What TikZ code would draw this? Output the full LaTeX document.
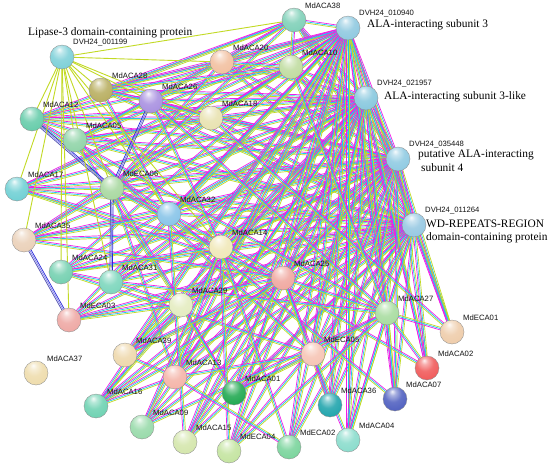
\documentclass[tikz,border=0pt]{standalone}
\usepackage{fontspec}
\setmainfont{Liberation Serif}
\newfontfamily\labfont{Liberation Sans}
\usetikzlibrary{calc,backgrounds}
\definecolor{cM}{HTML}{F01EE6}
\definecolor{cC}{HTML}{1EC8F0}
\definecolor{cY}{HTML}{C2DA24}
\definecolor{cB1}{HTML}{2828D8}
\definecolor{cB2}{HTML}{8080F0}
\definecolor{cB3}{HTML}{5050B0}
\colorlet{protcol}{white}
\pgfdeclareradialshading[protcol]{sphere}{\pgfpoint{-6bp}{16bp}}{%
  color(0bp)=(protcol!8!white); color(7bp)=(protcol!50!white);
  color(18bp)=(protcol!88!white); color(34bp)=(protcol);
  color(50bp)=(protcol!80!black); color(66bp)=(protcol!58!black)}
\tikzset{
  prot/.style={circle, minimum size=24pt, inner sep=0pt, draw=black!45, line width=0.3pt,
    /utils/exec={\definecolor{protcol}{HTML}{#1}}, shading=sphere},
  lab/.style={font=\labfont\fontsize{7.7}{8}\selectfont, text=black!92, anchor=west, inner sep=0pt},
  big/.style={font=\fontsize{11.4}{13.5}\selectfont, anchor=west, inner sep=0pt, align=left},
  eM/.style={draw=cM, line width=0.7pt},
  eC/.style={draw=cC, line width=0.7pt},
  eY/.style={draw=cY, line width=0.7pt},
  eYs/.style={draw=cY, line width=0.9pt},
  eB1/.style={draw=cB1, line width=0.7pt},
  eB2/.style={draw=cB2, line width=0.7pt},
  eB3/.style={draw=cB3, line width=0.7pt},
}
\newcommand\triedge[2]{%
  \draw[eC] (#1.center) -- (#2.center);
  \draw[eM] ($(#1)!1.3pt!90:(#2)$) -- ($(#2)!1.3pt!-90:(#1)$);
  \draw[eY] ($(#1)!1.3pt!-90:(#2)$) -- ($(#2)!1.3pt!90:(#1)$);}
\newcommand\bluedge[2]{%
  \draw[eB2] (#1.center) -- (#2.center);
  \draw[eB1] ($(#1)!1.3pt!90:(#2)$) -- ($(#2)!1.3pt!-90:(#1)$);
  \draw[eB3] ($(#1)!1.3pt!-90:(#2)$) -- ($(#2)!1.3pt!90:(#1)$);}
\newcommand\protnode[5]{%
  \node[prot=#4] (#1) at (#2,#3) {};
  \node[lab] (#1-l) at ($(#1)+(11,-14.5)$) {#5};}
\begin{document}
\begin{tikzpicture}[x=1pt,y=-1pt]
\useasboundingbox (0,0) rectangle (550,469);
% proteins
\protnode{n1}{62}{57}{7DD0D8}{DVH24\_001199}
\protnode{a1}{348}{28}{8FC9E0}{DVH24\_010940}
\protnode{a2}{366}{98}{88C8DE}{DVH24\_021957}
\protnode{a3}{398}{159}{8FCAE2}{DVH24\_035448}
\protnode{a4}{414}{225}{96C8E2}{DVH24\_011264}
\protnode{aca38}{294}{20}{7FD0B8}{MdACA38}
\protnode{aca20}{222}{62}{F2C0A0}{MdACA20}
\protnode{aca10}{291}{67}{C0DCA0}{MdACA10}
\protnode{aca28}{101}{90}{B8AE60}{MdACA28}
\protnode{aca26}{151}{101}{A890E0}{MdACA26}
\protnode{aca12}{32}{119}{66CCAA}{MdACA12}
\protnode{aca05}{75}{140}{90D4A8}{MdACA05}
\protnode{aca18}{211}{118}{E8E2B0}{MdACA18}
\protnode{aca17}{17}{189}{70D0D4}{MdACA17}
\protnode{eca06}{112}{188}{A8D8A0}{MdECA06}
\protnode{aca32}{169}{214}{88C4E8}{MdACA32}
\protnode{aca35}{24}{240}{EAD0B8}{MdACA35}
\protnode{aca14}{221}{247}{F0E8B8}{MdACA14}
\protnode{aca24}{61}{272}{74D0B0}{MdACA24}
\protnode{aca31}{111}{282}{7CD6BC}{MdACA31}
\protnode{aca29}{181}{305}{E4ECC0}{MdACA29}
\protnode{eca03}{69}{320}{EEA8A4}{MdECA03}
\protnode{aca25}{283}{278}{F0A8A0}{MdACA25}
\protnode{aca27}{387}{313}{A8DCA0}{MdACA27}
\protnode{aca37}{36}{373}{EEDCAC}{MdACA37}
\protnode{aca39}{125}{355}{EED8AC}{MdACA39}
\protnode{aca13}{175}{377}{F4B4A8}{MdACA13}
\protnode{aca16}{96}{406}{6ED2B2}{MdACA16}
\protnode{aca01}{234}{393}{20A850}{MdACA01}
\protnode{aca09}{142}{427}{98DAAA}{MdACA09}
\protnode{aca15}{185}{442}{D4E6AC}{MdACA15}
\protnode{eca04}{229}{451}{C4E4A0}{MdECA04}
\protnode{eca01}{452}{332}{EECCAA}{MdECA01}
\protnode{eca05}{313}{354}{F6C4B4}{MdECA05}
\protnode{aca02}{427}{368}{F05A5A}{MdACA02}
\protnode{aca07}{395}{399}{5060C0}{MdACA07}
\protnode{aca36}{330}{405}{20A4AC}{MdACA36}
\protnode{aca04}{348}{440}{8ADCCC}{MdACA04}
\protnode{eca02}{289}{447}{7AD49C}{MdECA02}
% descriptive titles
\node[big] (t1) at (28,33) {Lipase-3 domain-containing protein};
\node[big] (t2) at (367,25) {ALA-interacting subunit 3};
\node[big] (t3) at (384,97) {ALA-interacting subunit 3-like};
\node[big] (t4) at (418,155) {putative ALA-interacting};
\node[big] (t4b) at (421,168) {subunit 4};
\node[big] (t5) at (426,224) {WD-REPEATS-REGION};
\node[big] (t5b) at (426,238) {domain-containing protein};
% connectors
\begin{scope}[on background layer]
\fill[white] (0,0) rectangle (550,469);
\foreach \m in {aca38,aca20,aca10,aca28,aca26,aca12,aca05,aca18,aca17,eca06,aca32,aca35,aca14,aca24,aca31,aca29,eca03,aca25,aca27,aca39,aca13,aca16,aca01,aca09,aca15,eca04,eca01,eca05,aca02,aca07,aca36,aca04,eca02}{
  \foreach \a in {a1,a2,a3,a4}{\triedge{\m}{\a}}}
\foreach \p/\q in {a1/a2,a1/a3,a1/a4,a2/a3,a2/a4,a3/a4,aca38/aca10,
  aca12/aca18,aca12/aca10,aca12/aca27,aca12/aca32,aca12/aca38,
  aca05/aca20,aca05/aca29,aca05/eca05,aca05/aca18,aca05/aca38,
  aca17/eca06,aca17/aca27,aca17/aca14,aca17/aca10,
  eca06/aca32,eca06/aca20,eca06/aca02,eca06/aca13,eca06/aca01,eca06/aca38,
  aca35/eca06,aca35/aca25,aca35/aca32,
  aca24/aca31,aca24/aca14,aca24/eca05,
  aca31/aca29,aca31/aca27,
  eca03/aca29,eca03/aca25,
  aca28/aca20,aca28/aca26,aca28/aca10,aca28/aca32,aca28/aca38,
  aca26/aca18,aca26/aca14,aca26/aca27,
  aca18/aca10,aca18/eca01,aca20/aca10,aca20/aca38,
  aca32/aca25,aca32/aca07,aca14/aca13,aca14/eca02,
  aca29/aca39,aca29/aca01,aca25/eca05,aca25/aca36,
  aca39/aca13,aca39/aca25,aca16/aca29,aca16/aca25,aca16/aca13,
  aca13/eca05,aca09/aca14,aca09/aca27,aca15/aca25,aca15/aca32,
  eca04/aca14,eca04/aca27,eca02/aca13,aca01/eca05,aca01/aca27,
  aca36/eca05,aca04/eca05,aca04/aca27,aca07/aca27,aca02/aca27,
  eca01/aca27,aca10/aca27}{\triedge{\p}{\q}}
\foreach \p/\q in {aca35/eca03,eca06/aca31,aca12/eca06,eca06/aca26}{\bluedge{\p}{\q}}
\foreach \q in {aca38,aca20,aca28,aca26,aca18,aca12,aca05,aca17,eca06,aca35,aca24,aca31,eca03,aca32,aca14}{
  \draw[eYs] (n1.center) -- (\q.center);}
\end{scope}
\end{tikzpicture}
\end{document}
